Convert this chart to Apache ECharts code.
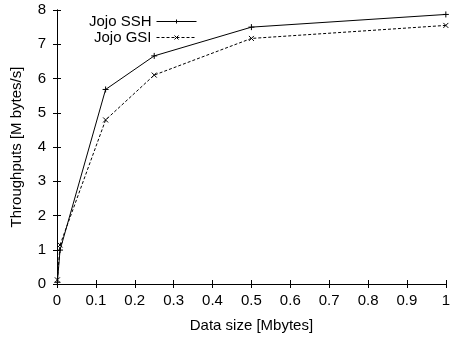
<!DOCTYPE html>
<html><head><meta charset="utf-8">
<script src="https://cdn.jsdelivr.net/npm/echarts@6/dist/echarts.min.js"></script>
<style>html,body{margin:0;padding:0;background:#fff}#c{width:453px;height:339px}</style>
</head><body><div id="c"></div>
<script>
var xValues = [0.001, 0.0078125, 0.125, 0.25, 0.5, 1];
var sshValues = [0.05, 0.99, 5.68, 6.66, 7.5, 7.87];
var gsiValues = [0.12, 1.14, 4.79, 6.1, 7.17, 7.55];
var seriesNames = ['Jojo SSH', 'Jojo GSI'];
var xTicks = [0, 0.1, 0.2, 0.3, 0.4, 0.5, 0.6, 0.7, 0.8, 0.9, 1];
var yTicks = [0, 1, 2, 3, 4, 5, 6, 7, 8];

var FONT = 'Liberation Sans';
var FS = 15;
var plus = 'path://M0,5L10,5M5,0L5,10';
var cross = 'path://M0,0L10,10M10,0L0,10';
function pairs(xs, ys){ return xs.map(function(x,i){return [x, ys[i]];}); }

var axisCommon = {
  axisLine:{show:true,lineStyle:{color:'#000',width:1}},
  axisTick:{show:true,inside:true,length:4,lineStyle:{color:'#000'}},
  splitLine:{show:false}
};
function legendFor(name, top){
  return {data:[name], orient:'vertical', right:256, top:top, align:'right', itemWidth:40, itemHeight:5, itemGap:4, padding:0,
    lineStyle:{width:1}, itemStyle:{borderWidth:1},
    textStyle:{fontFamily:FONT,fontSize:FS,color:'#000'}};
}
var chart = echarts.init(document.getElementById('c'), null, {renderer:'canvas'});
chart.setOption({
  animation:false,
  textStyle:{fontFamily:FONT},
  grid:{left:57,right:6,top:10,bottom:55},
  legend:[legendFor(seriesNames[0],14), legendFor(seriesNames[1],30)],
  xAxis:[
    Object.assign({type:'value',min:0,max:1,interval:0.1,position:'bottom',
      name:'Data size [Mbytes]',nameLocation:'middle',nameGap:34,
      nameTextStyle:{fontFamily:FONT,fontSize:FS,color:'#000'},
      axisLabel:{margin:9,fontFamily:FONT,fontSize:FS,color:'#000',
        formatter:function(v){var t=xTicks.find(function(a){return Math.abs(a-v)<1e-9;}); return t===undefined?'':String(t);}}},axisCommon),
    Object.assign({type:'value',min:0,max:1,interval:0.1,position:'top',axisLabel:{show:false}},axisCommon)
  ],
  yAxis:[
    Object.assign({type:'value',min:0,max:8,interval:1,position:'left',
      name:'Throughputs [M bytes/s]',nameLocation:'middle',nameGap:33,
      nameTextStyle:{fontFamily:FONT,fontSize:FS,color:'#000'},
      axisLabel:{margin:11,fontFamily:FONT,fontSize:FS,color:'#000',
        formatter:function(v){return yTicks.indexOf(v)>=0?String(v):'';}}},axisCommon),
    Object.assign({type:'value',min:0,max:8,interval:1,position:'right',axisLabel:{show:false}},axisCommon)
  ],
  series:[
    {name:seriesNames[0],type:'line',data:pairs(xValues,sshValues),symbol:plus,symbolSize:6,showSymbol:true,
     lineStyle:{color:'#000',width:1,type:'solid'},itemStyle:{color:'#000',borderColor:'#000',borderWidth:1}},
    {name:seriesNames[1],type:'line',data:pairs(xValues,gsiValues),symbol:cross,symbolSize:5,showSymbol:true,
     lineStyle:{color:'#000',width:1,type:[3,2]},itemStyle:{color:'#000',borderColor:'#000',borderWidth:1}}
  ]
});
</script></body></html>
